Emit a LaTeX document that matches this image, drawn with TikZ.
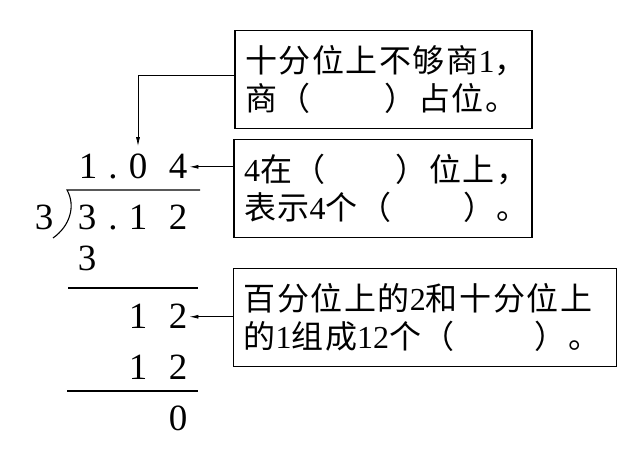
\documentclass[tikz,border=0pt]{standalone}
\usepackage{fontspec}
\setmainfont{Liberation Serif}
\newfontfamily\cjk[LetterSpace=5]{Noto Sans CJK SC}
\usetikzlibrary{arrows.meta,positioning}
\newcommand{\arabnum}[1]{{\rmfamily #1}}
\newcommand{\blank}[1]{\makebox[#1]{}}

\begin{document}
\begin{tikzpicture}[
  x=1pt,y=-1pt,
  digit/.style={inner sep=0pt,anchor=base,font=\fontsize{37}{37}\selectfont},
  tipbox/.style={draw,line width=1.2pt,inner xsep=10pt,inner ysep=0pt,align=left,
    minimum height=98pt,font=\cjk\fontsize{32}{38}\selectfont},
  rule/.style={line width=1.1pt},
  >/.tip={Latex[length=9pt,width=4pt]},
  pointer/.style={->,line width=0.8pt,shorten >=2pt}
]
\useasboundingbox (0,0) rectangle (638,457);
% long division
\node[digit] (q1) at (88,179) {1};
\node[digit] (qd) at (113,179) {.};
\node[digit] (q0) at (138,179) {0};
\node[digit] (q4) at (178,179) {4};
\node[digit] (dv) at (44,230) {3};
\node[digit] (n3) at (87,230) {3};
\node[digit] (nd) at (113,230) {.};
\node[digit] (n1) at (138,230) {1};
\node[digit] (n2) at (178,230) {2};
\node[digit] (s3) at (87,271) {3};
\node[digit] (r1) at (138,329) {1};
\node[digit] (r2) at (178,329) {2};
\node[digit] (t1) at (138,380) {1};
\node[digit] (t2) at (178,380) {2};
\node[digit] (z0) at (178,430) {0};
\draw[rule] (200,190) -- (67,190) .. controls (76,206) and (70,226) .. (53,238);
\draw[rule] (68,288) -- (198,288);
\draw[rule] (67,391) -- (198,391);
% hint boxes
\node[tipbox,text width=277pt] (box1) at (383.5,79.5)
  {十分位上不够商\arabnum{1}，\\商（\blank{74pt}）占位。};
\node[tipbox,text width=278pt] (box2) at (383,188.5)
  {\arabnum{4}在（\blank{70pt}）位上，\\表示\arabnum{4}个（\blank{72pt}）。};
\node[tipbox,text width=363pt] (box3) at (425,317.5)
  {百分位上的\arabnum{2}和十分位上\\的\arabnum{1}组成\arabnum{12}个（\blank{80pt}）。};
\draw[pointer,shorten >=8pt] ([yshift=4.5pt]box1.west) -| (q0.north);
\draw[pointer] (box2.west |- q4.east) -- (q4.east);
\draw[pointer] (box3.west |- r2.east) -- (r2.east);
\end{tikzpicture}
\end{document}
